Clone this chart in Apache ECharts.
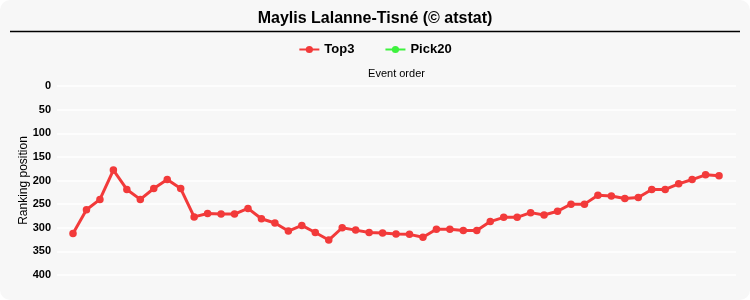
<!DOCTYPE html>
<html><head><meta charset="utf-8">
<script src="https://cdn.jsdelivr.net/npm/echarts@6/dist/echarts.min.js"></script>
<style>
html,body{margin:0;padding:0;background:#fff;}
#c{width:750px;height:300px;background:#f7f7f7;border-radius:10px;overflow:hidden;}
</style></head><body>
<div id="c"></div>
<script>
const titleText = "Maylis Lalanne-Tisné (© atstat)";
const seriesNames = ["Top3", "Pick20"];
const eventIndex = [1,2,3,4,5,6,7,8,9,10,11,12,13,14,15,16,17,18,19,20,21,22,23,24,25,26,27,28,29,30,31,32,33,34,35,36,37,38,39,40,41,42,43,44,45,46,47,48,49];
const top3 = [312,262,240,178,219,240,217,198,217,277,270,271,271,259,281,290,307,295,310,326,300,305,310,311,313,314,320,303,303,306,306,287,278,278,268,273,265,250,250,231,233,238,236,219,219,207,198,188,190];
const pick20 = [];
const yTicks = [0,50,100,150,200,250,300,350,400];

const chart = echarts.init(document.getElementById('c'), null, {renderer:'canvas'});
const font = "'Liberation Sans', Arial, sans-serif";
chart.setOption({
  backgroundColor: 'transparent',
  animation: false,
  textStyle: {fontFamily: font},
  title: {
    text: titleText, left: 'center', top: 6,
    textStyle: {fontFamily: font, fontSize: 16, fontWeight: 'bold', color: '#000'}
  },
  graphic: [{
    type: 'line', shape: {x1: 10, y1: 31.5, x2: 740, y2: 31.5},
    style: {stroke: '#000', lineWidth: 1.5}, silent: true
  }],
  legend: {
    data: seriesNames, top: 38, left: 'center', itemGap: 30, itemWidth: 20, itemHeight: 9,
    textStyle: {fontFamily: font, fontSize: 13, fontWeight: 'bold', color: '#000'}
  },
  grid: {left: 57, right: 14, top: 86, bottom: 25, containLabel: false},
  xAxis: {
    type: 'value', position: 'top', min: -0.19, max: 50.26,
    name: 'Event order', nameLocation: 'middle', nameGap: 12, nameMoveOverlap: false,
    nameTextStyle: {fontFamily: font, fontSize: 11, color: '#000', verticalAlign: 'middle'},
    axisLabel: {show: false}, axisTick: {show: false}, axisLine: {show: false}, splitLine: {show: false}
  },
  yAxis: {
    type: 'value', inverse: true, min: yTicks[0], max: yTicks[yTicks.length-1], interval: 50,
    name: 'Ranking position', nameLocation: 'middle', nameGap: 33, nameRotate: 90, nameMoveOverlap: false,
    nameTextStyle: {fontFamily: font, fontSize: 12, color: '#000', verticalAlign: 'middle'},
    axisLabel: {fontFamily: font, fontSize: 11, fontWeight: 'bold', color: '#000', margin: 6},
    axisTick: {show: false}, axisLine: {show: false},
    splitLine: {lineStyle: {color: '#ffffff', width: 1.5}}
  },
  series: [
    {name: seriesNames[0], type: 'line', data: eventIndex.map((e,i)=>[e, top3[i]]),
     color: '#f23a3a', lineStyle: {width: 3}, symbol: 'circle', symbolSize: 7.5, showSymbol: true},
    {name: seriesNames[1], type: 'line', data: pick20,
     color: '#3ef23e', lineStyle: {width: 3}, symbol: 'circle', symbolSize: 7.5}
  ]
});
</script></body></html>
